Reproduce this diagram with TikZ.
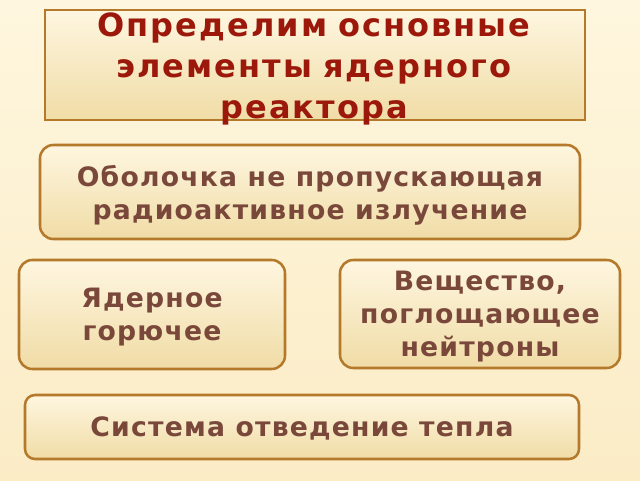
\documentclass[tikz,border=0pt]{standalone}
\usepackage{fontspec}
\setmainfont{DejaVu Sans}
\usepackage{xcolor}
\usepackage{tikz}

\definecolor{bgcream}{RGB}{251,236,198}
\definecolor{bglight}{RGB}{254,246,222}
\definecolor{rimgold}{RGB}{180,121,42}
\definecolor{boxtop}{RGB}{254,246,224}
\definecolor{boxbottom}{RGB}{240,220,166}
\definecolor{titlered}{RGB}{155,24,10}
\definecolor{labelbrown}{RGB}{122,72,58}

\tikzset{
  framebox/.style={draw=rimgold, line width=1.9pt, top color=boxtop, bottom color=boxbottom,
    inner sep=0pt},
  roundbox/.style={framebox, rounded corners=10pt, align=center, text=labelbrown, text depth=0pt,
    font=\fontsize{20}{24.8}\selectfont\bfseries\addfontfeature{LetterSpace=4.5}},
  titletext/.style={text=titlered, align=center, text width=430pt, inner sep=0pt,
    font=\fontsize{24}{30.8}\selectfont\bfseries\addfontfeature{LetterSpace=6.5}}
}

\begin{document}
\begin{tikzpicture}[x=0.75pt, y=-0.75pt]
  % Background
  \useasboundingbox (0,0) rectangle (640,480);
  \shade[top color=bglight, bottom color=bgcream] (0,0) rectangle (640,480);

  % Title frame and its text
  \node[framebox, minimum width=405pt, minimum height=82.5pt] (titlebox) at (315,65) {};
  \node[titletext, anchor=base] (title) at (314,36)
    {Определим основные\\элементы ядерного\\реактора};

  % Shell
  \node[roundbox, minimum width=405pt, minimum height=70.5pt] (shell) at (310,192)
    {Оболочка не пропускающая\\радиоактивное излучение};

  % Fuel and absorber
  \node[roundbox, minimum width=199.5pt, minimum height=81.75pt] (fuel) at (152,314.5)
    {Ядерное\\горючее};
  \node[roundbox, minimum width=210pt, minimum height=81pt] (absorber) at (480,314)
    {Вещество,\\поглощающее\\нейтроны};

  % Heat removal
  \node[roundbox, rounded corners=7.5pt, minimum width=415.5pt, minimum height=48pt] (cooling) at (302,427)
    {Система отведение тепла};
\end{tikzpicture}
\end{document}
